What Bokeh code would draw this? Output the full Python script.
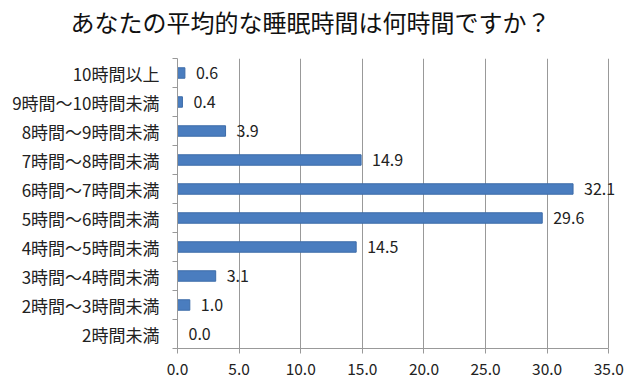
from bokeh.plotting import figure
from bokeh.models import Range1d, FixedTicker, NumeralTickFormatter, ColumnDataSource, LabelSet, Title
from bokeh.core.properties import value
from bokeh.embed import file_html
from bokeh.resources import INLINE

categories = ["2時間未満", "2時間～3時間未満", "3時間～4時間未満", "4時間～5時間未満",
              "5時間～6時間未満", "6時間～7時間未満", "7時間～8時間未満",
              "8時間～9時間未満", "9時間～10時間未満", "10時間以上"]
values = [0.0, 1.0, 3.1, 14.5, 29.6, 32.1, 14.9, 3.9, 0.4, 0.6]
x_ticks = [0, 5, 10, 15, 20, 25, 30, 35]
title_text = "あなたの平均的な睡眠時間は何時間ですか？"

FONT = "Noto Sans CJK JP"
idx = list(range(len(categories)))
src = ColumnDataSource(dict(y=idx, v=values, lab=[f"{v:.1f}" for v in values]))

x_max = x_ticks[-1]
p = figure(width=632, height=386, output_backend="svg", toolbar_location=None,
           x_range=Range1d(0, x_max + 1.6), y_range=Range1d(-0.5, len(categories) - 0.5),
           min_border_left=177, min_border_right=4, min_border_top=58, min_border_bottom=38)
p.outline_line_color = None

# spacer panel between frame and title
p.add_layout(Title(text=" ", text_font_size="1px", standoff=17), "above")
p.add_layout(Title(text=title_text, text_font=FONT, text_font_size="24px",
                   text_font_style="normal", text_color="#111111",
                   align="left", offset=-107, standoff=0), "above")

p.hbar(y="y", right="v", left=0, height=0.36, source=src,
       fill_color="#4a7dbf", line_color="#3d6ca8", line_width=1)
labels = LabelSet(x="v", y="y", text="lab", source=src, x_offset=11,
                  text_align="left", text_baseline="middle", text_font=value(FONT),
                  text_font_size="16px", text_color="#222222")
p.add_layout(labels)

# x axis
p.xaxis.ticker = FixedTicker(ticks=x_ticks)
p.xaxis.bounds = (0, x_max)
p.xaxis.formatter = NumeralTickFormatter(format="0.0")
p.xaxis.axis_line_color = "#999999"
p.xaxis.major_tick_line_color = "#999999"
p.xaxis.major_tick_out = 5
p.xaxis.major_tick_in = 0
p.xaxis.minor_tick_line_color = None
p.xaxis.major_label_text_font = FONT
p.xaxis.major_label_text_font_size = "15.5px"
p.xaxis.major_label_text_color = "#222222"
p.xaxis.major_label_standoff = 9

# y axis
p.yaxis.ticker = FixedTicker(ticks=idx, minor_ticks=[i - 0.5 for i in range(len(categories) + 1)])
p.yaxis.major_label_overrides = {i: c for i, c in enumerate(categories)}
p.yaxis.axis_line_color = "#999999"
p.yaxis.major_tick_line_color = None
p.yaxis.minor_tick_line_color = "#999999"
p.yaxis.minor_tick_out = 5
p.yaxis.minor_tick_in = 0
p.yaxis.major_label_text_font = FONT
p.yaxis.major_label_text_font_size = "17px"
p.yaxis.major_label_text_color = "#222222"
p.yaxis.major_label_standoff = 12

p.xgrid.grid_line_color = "#999999"
p.xgrid.ticker = FixedTicker(ticks=x_ticks[1:])
p.ygrid.grid_line_color = None

open("out.html", "w").write(file_html(p, INLINE))
